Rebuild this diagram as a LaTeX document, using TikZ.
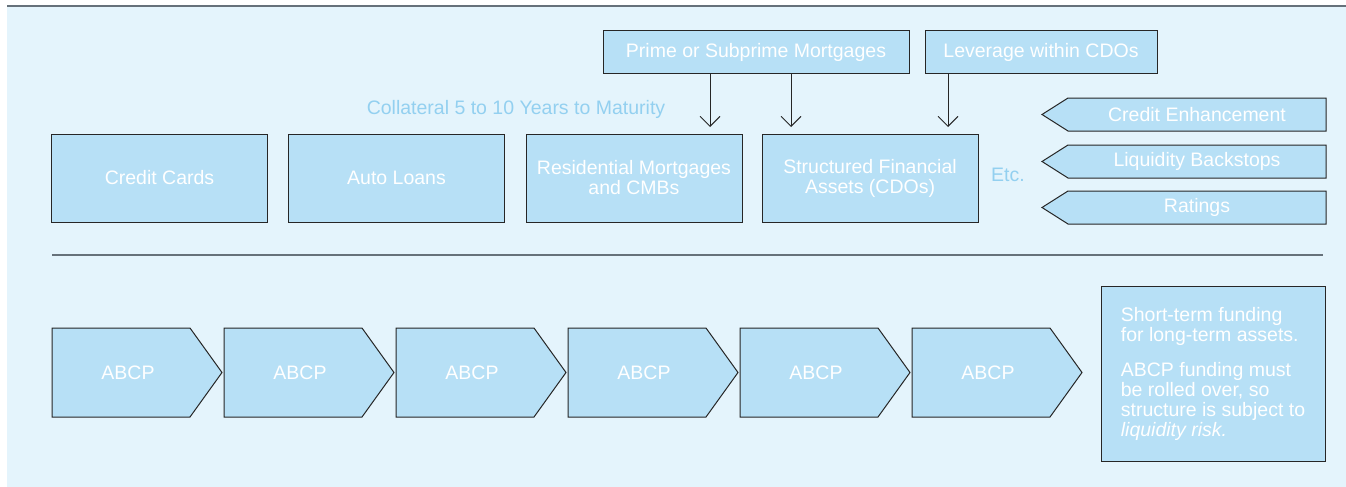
\documentclass[tikz,border=0pt]{standalone}
\usepackage{fontspec}
\setmainfont{Liberation Sans}
\usetikzlibrary{arrows.meta}
\definecolor{paleblue}{HTML}{E4F4FC}
\definecolor{boxblue}{HTML}{B7E0F6}
\definecolor{textblue}{HTML}{93D0F0}
\definecolor{rulegray}{HTML}{66717A}
\newcommand{\txtsize}{\fontsize{19.5}{20}\selectfont}
\tikzset{
	box/.style={draw=black!85, line width=1pt, fill=boxblue, text=white, minimum width=216pt, minimum height=88pt, align=center, inner sep=0pt, font=\txtsize},
	topbox/.style={box, minimum height=42pt},
	shapeline/.style={draw=black!85, line width=1pt, fill=boxblue},
	lbl/.style={text=white, font=\txtsize, inner sep=0pt},
	bluelbl/.style={text=textblue, font=\txtsize, inner sep=0pt},
	arr/.style={line width=0.9pt, draw=black!85, -{Straight Barb[length=10pt, width=20pt, line width=0.9pt]}},
	rule/.style={line width=2pt, draw=rulegray}
}

\begin{document}
\begin{tikzpicture}[x=1pt, y=-1pt]
			%%%%% START %%%%%
			
			\useasboundingbox (0, 0) rectangle (1346, 487);
			\fill[paleblue] (7, 7) rectangle (1346, 487);
			\draw[rule] (7, 6.5) -- (1346, 6.5);
			\draw[rule] (52, 255) -- (1323, 255);
			
			% collateral
			\node[box] (credit) at (159.5, 178) {Credit Cards};
			\node[box] (auto) at (396.5, 178) {Auto Loans};
			\node[box] (resid) at (634, 178) {Residential Mortgages\\and CMBs};
			\node[box] (struct) at (870, 178) {Structured Financial\\Assets (CDOs)};
			\node[bluelbl] (collat) at (516, 109) {Collateral 5 to 10 Years to Maturity};
			\node[bluelbl] (etc) at (1008, 175) {Etc.};
			
			\node[topbox, minimum width=306pt] (prime) at (756, 52) {Prime or Subprime Mortgages};
			\node[topbox, minimum width=232pt] (lever) at (1041, 52) {Leverage within CDOs};
			
			\coordinate (p1) at (710, 127);
			\coordinate (p2) at (791, 127);
			\coordinate (p3) at (948, 127);
			\draw[arr] (prime.south -| p1) -- (p1);
			\draw[arr] (prime.south -| p2) -- (p2);
			\draw[arr] (lever.south -| p3) -- (p3);
			
			% support
			\draw[shapeline] (1068, 98) -- (1326, 98) -- (1326, 131) -- (1068, 131) -- (1042, 114.5) -- cycle;
			\node[lbl] (enhance) at (1197, 114.5) {Credit Enhancement};
			\draw[shapeline] (1068, 145) -- (1326, 145) -- (1326, 178) -- (1068, 178) -- (1042, 161.5) -- cycle;
			\node[lbl] (backstop) at (1197, 161.5) {Liquidity Backstops};
			\draw[shapeline] (1068, 191) -- (1326, 191) -- (1326, 224) -- (1068, 224) -- (1042, 207.5) -- cycle;
			\node[lbl] (ratings) at (1197, 207.5) {Ratings};
			
			% funding
			\draw[shapeline] (52, 328) -- (190, 328) -- (222, 372.5) -- (190, 417) -- (52, 417) -- cycle;
			\node[lbl] (abcp1) at (128, 372.5) {ABCP};
			\draw[shapeline] (224, 328) -- (362, 328) -- (394, 372.5) -- (362, 417) -- (224, 417) -- cycle;
			\node[lbl] (abcp2) at (300, 372.5) {ABCP};
			\draw[shapeline] (396, 328) -- (534, 328) -- (566, 372.5) -- (534, 417) -- (396, 417) -- cycle;
			\node[lbl] (abcp3) at (472, 372.5) {ABCP};
			\draw[shapeline] (568, 328) -- (706, 328) -- (738, 372.5) -- (706, 417) -- (568, 417) -- cycle;
			\node[lbl] (abcp4) at (644, 372.5) {ABCP};
			\draw[shapeline] (740, 328) -- (878, 328) -- (910, 372.5) -- (878, 417) -- (740, 417) -- cycle;
			\node[lbl] (abcp5) at (816, 372.5) {ABCP};
			\draw[shapeline] (912, 328) -- (1050, 328) -- (1082, 372.5) -- (1050, 417) -- (912, 417) -- cycle;
			\node[lbl] (abcp6) at (988, 372.5) {ABCP};
			
			\node[box, minimum width=224pt, minimum height=175pt, align=left] (note) at (1213, 374) {Short-term funding\\for long-term assets.\\[15pt]ABCP funding must\\be rolled over, so\\structure is subject to\\\textit{liquidity risk.}};
			
			%%%%% END %%%%%
\end{tikzpicture}
\end{document}
